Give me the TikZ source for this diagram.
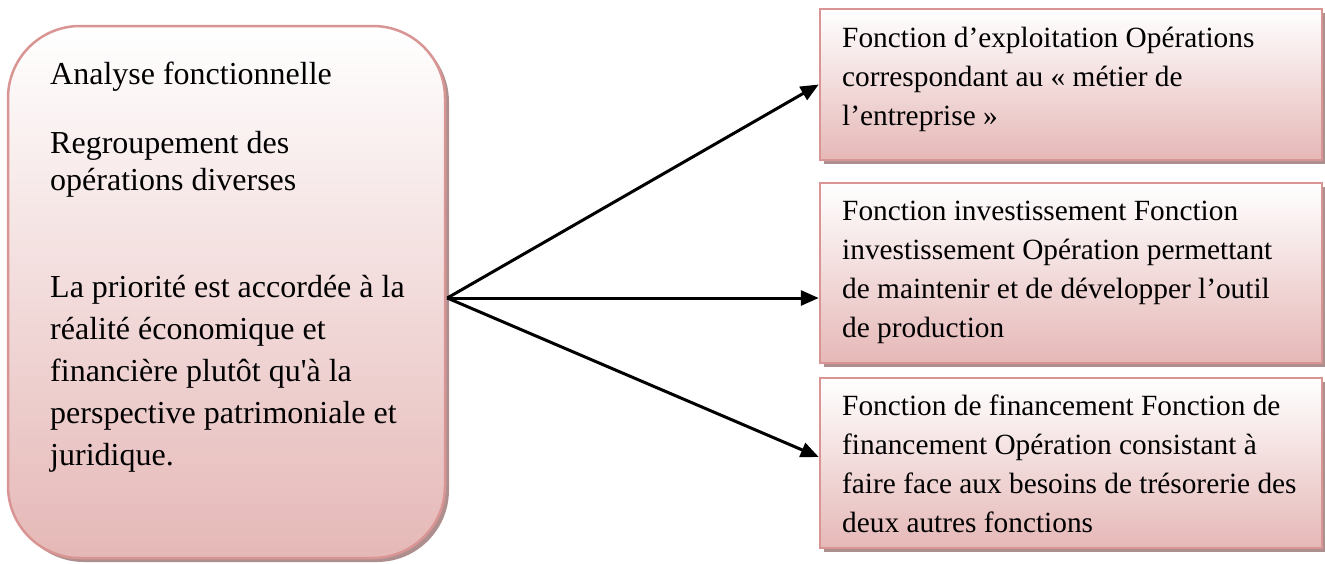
\documentclass[tikz,border=0pt]{standalone}
\usepackage{fontspec}
\setmainfont{Liberation Serif}
\usetikzlibrary{arrows.meta,shadows,calc}
\definecolor{bordercol}{HTML}{D99594}
\definecolor{fillcol}{HTML}{E5B8B7}
\definecolor{shadowcol}{HTML}{AE8F8F}
\begin{document}
\begin{tikzpicture}[x=1pt,y=-1pt,
  boxbase/.style={draw=bordercol, line width=2.5pt, top color=white, bottom color=fillcol,
    drop shadow={shadow xshift=4pt, shadow yshift=-4pt, fill=shadowcol, opacity=1}, inner sep=0pt},
  leftbox/.style={boxbase, rounded corners=72pt},
  rightbox/.style={boxbase, minimum width=502pt},
  ltext/.style={anchor=base west, inner sep=0pt, font=\fontsize{32}{42}\selectfont},
  rtext/.style={anchor=base west, inner sep=0pt, font=\fontsize{29.33}{39}\selectfont},
  conn/.style={line width=3pt, -{Triangle[length=18pt,width=15pt]}}]
\useasboundingbox (0,0) rectangle (1325,563);
% boxes
\node[leftbox, minimum width=437pt, minimum height=532pt] (L) at (226.5,292) {};
\node[rightbox, minimum height=151pt] (B1) at (1071,84.5) {};
\node[rightbox, minimum height=180pt] (B2) at (1071,273) {};
\node[rightbox, minimum height=170pt] (B3) at (1071,463) {};
% texts
\node[ltext] (Lt) at (50,84) {\begin{minipage}[t]{390pt}\raggedright
Analyse fonctionnelle\\[27pt]
Regroupement des\\[-5pt]
opérations diverses\\[65pt]
La priorité est accordée à la\\
réalité économique et\\
financière plutôt qu\textquotesingle à la\\
perspective patrimoniale et\\
juridique.\end{minipage}};
\node[rtext] (B1t) at (842,47) {\begin{minipage}[t]{475pt}\raggedright
Fonction d’exploitation Opérations\\
correspondant au « métier de\\
l’entreprise »\end{minipage}};
\node[rtext] (B2t) at (842,220) {\begin{minipage}[t]{475pt}\raggedright
Fonction investissement Fonction\\
investissement Opération permettant\\
de maintenir et de développer l’outil\\
de production\end{minipage}};
\node[rtext] (B3t) at (842,415) {\begin{minipage}[t]{475pt}\raggedright
Fonction de financement Fonction de\\
financement Opération consistant à\\
faire face aux besoins de trésorerie des\\
deux autres fonctions\end{minipage}};
% connectors
\coordinate (src) at ($(L.east)+(1,6)$);
\draw[conn] (src) -- (B1.west);
\draw[conn] (src) -- (B2.west |- src);
\draw[conn] (src) -- ($(B3.west)+(0,-6)$);
\end{tikzpicture}
\end{document}
